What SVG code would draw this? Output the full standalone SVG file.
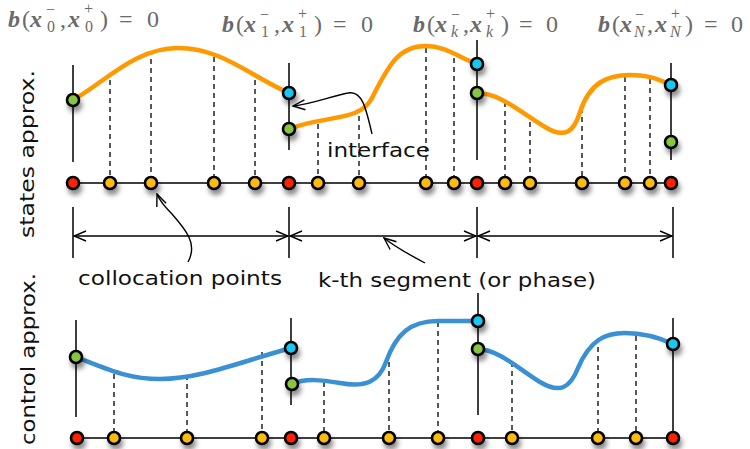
<svg xmlns="http://www.w3.org/2000/svg" width="750" height="449" viewBox="0 0 750 449">
<defs>
<filter id="sh" x="-100%" y="-100%" width="300%" height="300%">
<feDropShadow dx="2" dy="5" stdDeviation="2.5" flood-color="#000" flood-opacity="0.45"/>
</filter>
<marker id="open" viewBox="0 0 14 12" refX="13" refY="6" markerWidth="14" markerHeight="12" markerUnits="userSpaceOnUse" orient="auto-start-reverse">
<path d="M1,1 L13,6 L1,11" fill="none" stroke="#000" stroke-width="1.4"/>
</marker>
</defs>
<style>
.ax{stroke:#000;stroke-width:1.5;fill:none}
.dash{stroke:#222;stroke-width:1.5;stroke-dasharray:5 4;fill:none}
.orange{stroke:#ff9900;stroke-width:4.5;fill:none;stroke-linecap:round}
.blue{stroke:#3990d2;stroke-width:4.5;fill:none;stroke-linecap:round}
.pt{stroke:#000;stroke-width:2.6;filter:url(#sh)}
.r{fill:#ff2200}.y{fill:#ffbb11}.g{fill:#88c540}.c{fill:#19c8f2}
.hand{font-family:"DejaVu Sans",sans-serif;font-size:19px;fill:#111}
.m{font-family:"Liberation Serif","DejaVu Serif",serif;font-size:24px;fill:#6a6a6a}
.mb{font-weight:bold;font-style:italic}
.s{font-size:16px}
.arr{stroke:#000;stroke-width:1.4;fill:none}
</style>

<!-- math labels -->
<g id="label-b0" class="m" transform="translate(8,27)">
<text x="0" y="0" class="mb">b</text><text x="14" y="0">(</text><text x="22" y="0" class="mb">x</text>
<text x="38" y="-12" class="s">−</text><text x="39" y="5" class="s">0</text><text x="52" y="0">,</text>
<text x="60" y="0" class="mb">x</text><text x="76" y="-13" class="s">+</text><text x="77" y="5" class="s">0</text>
<text x="92" y="0">)</text><text x="111" y="0">=</text><text x="139" y="0">0</text>
</g>
<g id="label-b1" class="m" transform="translate(222,32)">
<text x="0" y="0" class="mb">b</text><text x="14" y="0">(</text><text x="22" y="0" class="mb">x</text>
<text x="38" y="-12" class="s">−</text><text x="39" y="5" class="s">1</text><text x="52" y="0">,</text>
<text x="60" y="0" class="mb">x</text><text x="76" y="-13" class="s">+</text><text x="77" y="5" class="s">1</text>
<text x="92" y="0">)</text><text x="111" y="0">=</text><text x="139" y="0">0</text>
</g>
<g id="label-bk" class="m" transform="translate(413,32)">
<text x="0" y="0" class="mb">b</text><text x="14" y="0">(</text><text x="22" y="0" class="mb">x</text>
<text x="38" y="-12" class="s">−</text><text x="38" y="5" class="s" font-style="italic">k</text><text x="50" y="0">,</text>
<text x="57" y="0" class="mb">x</text><text x="73" y="-13" class="s">+</text><text x="73" y="5" class="s" font-style="italic">k</text>
<text x="88" y="0">)</text><text x="106" y="0">=</text><text x="133" y="0">0</text>
</g>
<g id="label-bN" class="m" transform="translate(598,32)">
<text x="0" y="0" class="mb">b</text><text x="14" y="0">(</text><text x="22" y="0" class="mb">x</text>
<text x="37" y="-12" class="s">−</text><text x="36" y="5" class="s" font-style="italic">N</text><text x="49" y="0">,</text>
<text x="57" y="0" class="mb">x</text><text x="73" y="-13" class="s">+</text><text x="72" y="5" class="s" font-style="italic">N</text>
<text x="87" y="0">)</text><text x="106" y="0">=</text><text x="133" y="0">0</text>
</g>

<!-- side labels -->
<g id="label-states"><text class="hand" transform="translate(34,238) rotate(-90)" textLength="168" lengthAdjust="spacingAndGlyphs">states approx.</text></g>
<g id="label-control"><text class="hand" transform="translate(35,445) rotate(-90)" textLength="172" lengthAdjust="spacingAndGlyphs">control approx.</text></g>

<g id="connectors">
<!-- states axes -->
<path class="ax" d="M73,65V162 M289,63V150 M477,40V160 M671,63V160 M73,183H671"/>
<!-- states dashed -->
<path class="dash" d="M110,80V183 M151,59V183 M214,57V183 M255,80V183 M318,124V183 M359,116V183 M426,48V183 M454,58V183 M505,102V183 M530,122V183 M582,108V183 M625,77V183 M650,79V183"/>
<!-- states curves -->
<path class="orange" d="M73,100 C105,82 135,48 178,48 C222,48 250,76 289,93"/>
<path class="orange" d="M289,129 C325,115 360,122 372,98 C390,62 400,46 426,46 C446,46 460,58 477,64"/>
<path class="orange" d="M477,93 C500,93 520,112 545,127 C565,139 574,132 580,112 C590,82 608,75 630,75 C650,75 660,80 671,85"/>

<!-- segment dimension -->
<path class="ax" d="M73,207V258 M289,207V258 M477,207V258 M673,207V258"/>
<path class="arr" d="M74,236H288" marker-start="url(#open)" marker-end="url(#open)"/>
<path class="arr" d="M290,236H476" marker-start="url(#open)" marker-end="url(#open)"/>
<path class="arr" d="M478,236H672" marker-start="url(#open)" marker-end="url(#open)"/>

<!-- annotation arrows -->
<path class="arr" d="M372,134 C366,108 362,90 348,93 C332,96 312,104 293,106" marker-end="url(#open)"/>
<path class="arr" d="M188,262 C198,244 186,230 172,214 C162,204 159,199 157,194" marker-end="url(#open)"/>
<path class="arr" d="M425,263 C408,254 395,247 384,238" marker-end="url(#open)"/>

<!-- control axes -->
<path class="ax" d="M76,320V417 M291,318V405 M478,293V415 M673,318V438 M76,438H673"/>
<path class="dash" d="M114,374V438 M187,375V438 M262,352V438 M324,382V438 M389,362V438 M438,322V438 M512,362V438 M598,347V438 M636,336V438"/>
<path class="blue" d="M76,357 C110,370 128,379 160,379 C200,379 240,362 291,348"/>
<path class="blue" d="M292,384 C305,378 322,380 340,383 C366,388 379,381 386,362 C396,334 410,321 438,321 C456,321 466,321 478,321"/>
<path class="blue" d="M478,349 C500,350 520,370 540,382 C560,394 570,388 578,368 C590,340 605,333 625,333 C645,333 660,338 673,344"/>
</g>

<g id="texts">
<text id="t-interface" class="hand" x="327" y="157" textLength="103" lengthAdjust="spacingAndGlyphs">interface</text>
<text id="t-colloc" class="hand" x="78" y="285" textLength="204" lengthAdjust="spacingAndGlyphs">collocation points</text>
<text id="t-segment" class="hand" x="318" y="287" textLength="278" lengthAdjust="spacingAndGlyphs">k-th segment (or phase)</text>
</g>

<g id="states-points">
<circle class="pt g" cx="73" cy="100" r="6"/>
<circle class="pt c" cx="289" cy="93" r="6"/>
<circle class="pt g" cx="289" cy="129" r="6"/>
<circle class="pt c" cx="477" cy="64" r="6"/>
<circle class="pt g" cx="477" cy="93" r="6"/>
<circle class="pt c" cx="671" cy="85" r="6"/>
<circle class="pt g" cx="671" cy="142" r="6"/>
</g>
<g id="states-grid">
<circle class="pt r" cx="73" cy="183" r="6"/>
<circle class="pt y" cx="110" cy="183" r="6"/>
<circle class="pt y" cx="151" cy="183" r="6"/>
<circle class="pt y" cx="214" cy="183" r="6"/>
<circle class="pt y" cx="255" cy="183" r="6"/>
<circle class="pt r" cx="289" cy="183" r="6"/>
<circle class="pt y" cx="318" cy="183" r="6"/>
<circle class="pt y" cx="359" cy="183" r="6"/>
<circle class="pt y" cx="426" cy="183" r="6"/>
<circle class="pt y" cx="454" cy="183" r="6"/>
<circle class="pt r" cx="477" cy="183" r="6"/>
<circle class="pt y" cx="505" cy="183" r="6"/>
<circle class="pt y" cx="530" cy="183" r="6"/>
<circle class="pt y" cx="582" cy="183" r="6"/>
<circle class="pt y" cx="625" cy="183" r="6"/>
<circle class="pt y" cx="650" cy="183" r="6"/>
<circle class="pt r" cx="671" cy="183" r="6"/>
</g>
<g id="control-points">
<circle class="pt g" cx="76" cy="357" r="6"/>
<circle class="pt c" cx="291" cy="348" r="6"/>
<circle class="pt g" cx="292" cy="384" r="6"/>
<circle class="pt c" cx="478" cy="321" r="6"/>
<circle class="pt g" cx="478" cy="349" r="6"/>
<circle class="pt c" cx="673" cy="344" r="6"/>
</g>
<g id="control-grid">
<circle class="pt r" cx="77" cy="438" r="6"/>
<circle class="pt y" cx="114" cy="438" r="6"/>
<circle class="pt y" cx="187" cy="438" r="6"/>
<circle class="pt y" cx="262" cy="438" r="6"/>
<circle class="pt r" cx="291" cy="438" r="6"/>
<circle class="pt y" cx="324" cy="438" r="6"/>
<circle class="pt y" cx="389" cy="438" r="6"/>
<circle class="pt y" cx="438" cy="438" r="6"/>
<circle class="pt r" cx="478" cy="438" r="6"/>
<circle class="pt y" cx="512" cy="438" r="6"/>
<circle class="pt y" cx="598" cy="438" r="6"/>
<circle class="pt y" cx="636" cy="438" r="6"/>
<circle class="pt r" cx="673" cy="438" r="6"/>
</g>
</svg>
